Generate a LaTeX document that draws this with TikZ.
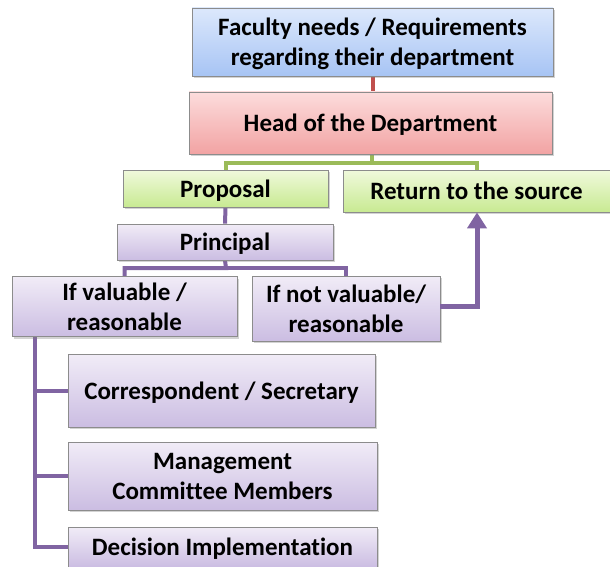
\documentclass[tikz,border=0pt]{standalone}
\usepackage{fontspec}
\setmainfont{Carlito}[Ligatures=NoCommon]
\usetikzlibrary{shadows,backgrounds,arrows.meta}
\definecolor{blueT}{HTML}{DCE8FC}
\definecolor{blueB}{HTML}{A7C4F4}
\definecolor{redT}{HTML}{FCDCDC}
\definecolor{redB}{HTML}{F2A3A3}
\definecolor{greenT}{HTML}{F0F9DC}
\definecolor{greenB}{HTML}{C8EA92}
\definecolor{purpT}{HTML}{F1ECF7}
\definecolor{purpB}{HTML}{CBBDE2}
\definecolor{lnRed}{HTML}{C0504D}
\definecolor{lnGreen}{HTML}{9BBB59}
\definecolor{lnPurp}{HTML}{8064A2}
\tikzset{
  box/.style={draw=black!45, line width=0.8pt, rectangle, align=center,
    font=\fontsize{25}{30}\selectfont\bfseries, inner sep=0pt, text depth=0pt,
    drop shadow={opacity=0.35, shadow xshift=2pt, shadow yshift=-2pt}},
  bluebox/.style={box, top color=blueT, bottom color=blueB},
  redbox/.style={box, top color=redT, bottom color=redB},
  greenbox/.style={box, top color=greenT, bottom color=greenB},
  purpbox/.style={box, top color=purpT, bottom color=purpB},
  conn/.style={line width=4pt},
}
\begin{document}
\begin{tikzpicture}[x=1pt,y=-1pt]
\useasboundingbox (0,0) rectangle (610,567);
\node[bluebox, minimum width=361pt, minimum height=68pt] (fac) at (372.5,42) {Faculty needs / Requirements\\regarding their department};
\node[redbox, minimum width=363pt, minimum height=62pt] (head) at (370.5,123) {Head of the Department};
\node[greenbox, minimum width=205pt, minimum height=37pt] (prop) at (225.5,188.5) {Proposal};
\node[greenbox, minimum width=267pt, minimum height=42pt] (ret) at (476.5,191) {Return to the source};
\node[purpbox, minimum width=216pt, minimum height=36pt] (prin) at (225,242) {Principal};
\node[purpbox, minimum width=225pt, minimum height=60pt] (ifv) at (124.5,306.5) {If valuable /\\reasonable};
\node[purpbox, minimum width=188pt, minimum height=65pt] (ifn) at (346,308.5) {If not valuable/\\reasonable};
\node[purpbox, minimum width=307pt, minimum height=73pt] (corr) at (221.5,390.5) {Correspondent / Secretary};
\node[purpbox, minimum width=309pt, minimum height=68pt] (mgmt) at (222.5,476) {Management\\Committee Members};
\node[purpbox, minimum width=309pt, minimum height=40pt] (dec) at (222.5,547) {Decision Implementation};
\coordinate (spine) at (35,337);
\coordinate (gbar) at (372,162.5);
\coordinate (pbar) at (226,268);
\coordinate (turn) at (477,306);
\begin{pgfonlayer}{background}
\draw[conn, lnRed] (fac.south) -- (fac.south |- head.north);
\draw[conn, lnGreen] (head.south -| gbar) -- (gbar) -| (prop.north);
\draw[conn, lnGreen] (gbar) -| (ret.north);
\draw[conn, lnPurp] (prop.south) -- (prin.north);
\draw[conn, lnPurp] (prin.south) -- (pbar) -| (ifv.north);
\draw[conn, lnPurp] (pbar) -| (ifn.north);
\draw[line width=4pt, lnPurp] (spine) |- (corr.west);
\draw[line width=4pt, lnPurp] (spine) |- (mgmt.west);
\draw[line width=4pt, lnPurp] (spine) |- (dec.west);
\end{pgfonlayer}
\draw[line width=5pt, lnPurp, -{Triangle[width=19pt,length=16pt]}] (ifn.east |- turn) -- (turn) -- (turn |- ret.south);
\end{tikzpicture}
\end{document}
